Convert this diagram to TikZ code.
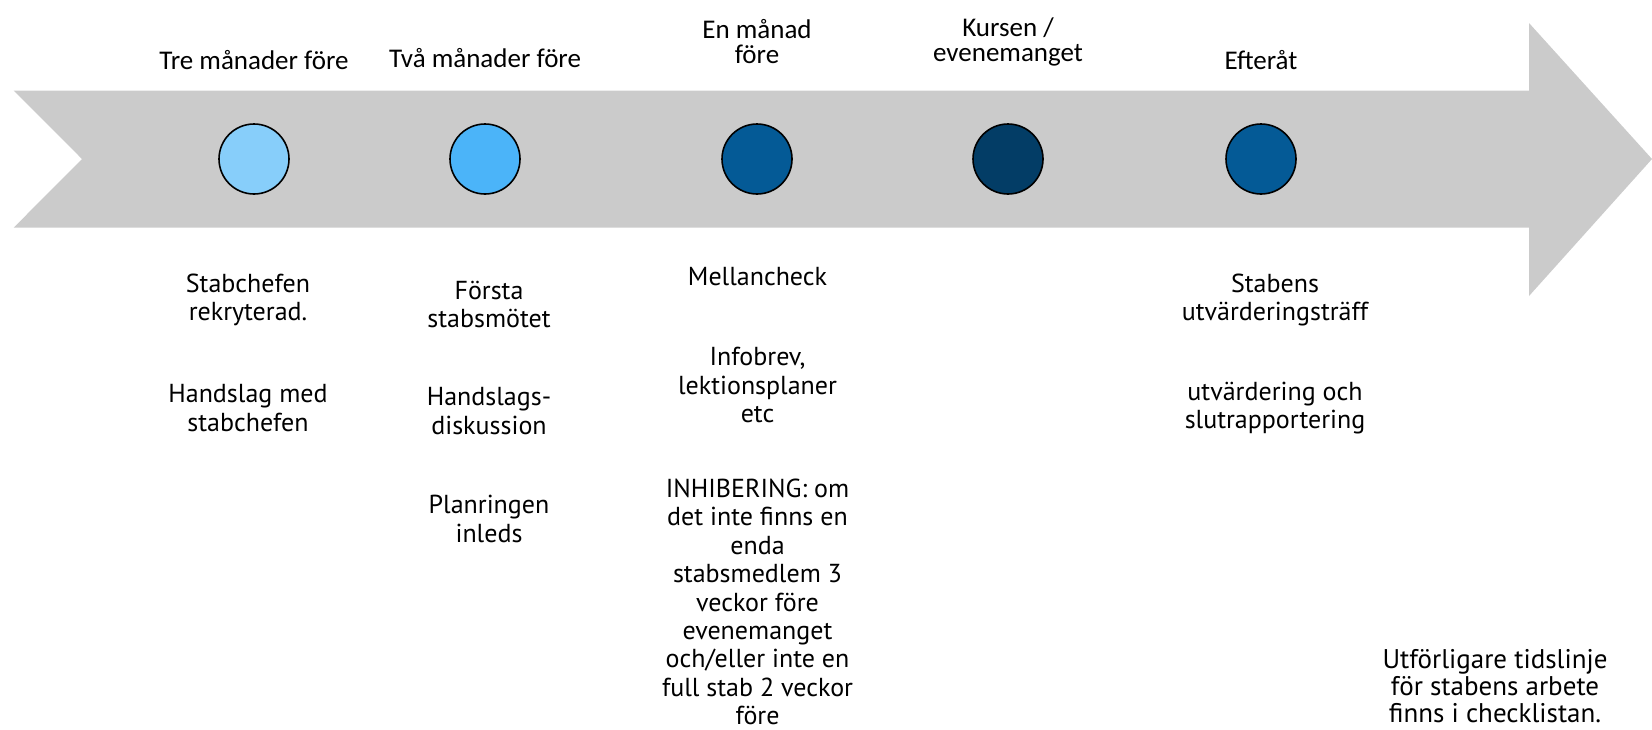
\documentclass[tikz,border=0pt]{standalone}
\usepackage{fontspec}
\setmainfont{PT Sans}
\newfontfamily\topfont{Carlito}
\definecolor{band}{HTML}{CBCBCB}
\definecolor{blueA}{HTML}{87CEFA}
\definecolor{blueB}{HTML}{4BB4F9}
\definecolor{blueC}{HTML}{045A96}
\definecolor{blueD}{HTML}{033D66}

\begin{document}
\begin{tikzpicture}[x=0.5pt, y=-0.5pt, thick,
    dot/.style = {draw, circle, minimum size=35pt, inner sep=0pt},
    when/.style = {align=center, font=\topfont\fontsize{13.5}{12.5}\selectfont},
    note/.style = {align=center, inner sep=1pt, font=\fontsize{13}{14.2}\selectfont}]
        \useasboundingbox (0,0) rectangle (1652,729);

        % the arrow
        \fill[band] (13.7,90.6) -- (1529,90.6) -- (1529,23) -- (1652,159)
            -- (1529,296) -- (1529,227.6) -- (13.7,227.6) -- (82,159) -- cycle;

        % milestones
        \node[dot, fill=blueA] (1) at (254,159) {};
        \node[dot, fill=blueB] (2) at (485,159) {};
        \node[dot, fill=blueC] (3) at (757,159) {};
        \node[dot, fill=blueD] (4) at (1008,159) {};
        \node[dot, fill=blueC] (5) at (1261,159) {};

        % when
        \node[when] (t1) at (254,60) {Tre månader före};
        \node[when] (t2) at (485,58) {Två månader före};
        \node[when] (t3) at (757,42) {En månad\\före};
        \node[when] (t4) at (1008,42) {Kursen /\\evenemanget};
        \node[when] (t5) at (1261,60) {Efteråt};

        % what
        \node[note] (a1) at (248,300) {Stabchefen\\rekryterad.};
        \node[note] (b1) at (248,408) {Handslag med\\stabchefen};

        \node[note] (a2) at (489,304.5) {Första\\stabsmötet};
        \node[note] (b2) at (489,411) {Handslags-\\diskussion};
        \node[note] (c2) at (489,519) {Planringen\\inleds};

        \node[note] (a3) at (757.5,277) {Mellancheck};
        \node[note] (b3) at (757.5,385) {Infobrev,\\lektionsplaner\\etc};
        \node[note] (c3) at (757.5,602) {INHIBERING: om\\det inte finns en\\enda\\stabsmedlem 3\\veckor före\\evenemanget\\och/eller inte en\\full stab 2 veckor\\före};

        \node[note] (a5) at (1275,300) {Stabens\\utvärderingsträff};
        \node[note] (b5) at (1275,408) {utvärdering och\\slutrapportering};

        \node[note, font=\fontsize{13.5}{13.5}\selectfont] (n) at (1495,686) {Utförligare tidslinje\\för stabens arbete\\finns i checklistan.};
    \end{tikzpicture}
\end{document}
